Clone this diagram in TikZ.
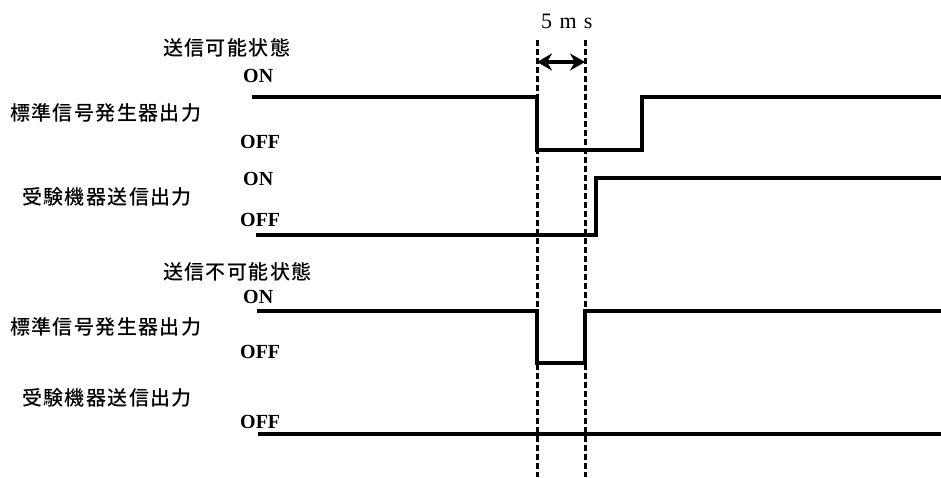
\documentclass[tikz,border=0pt]{standalone}
\usepackage{fontspec}
\setmainfont{Liberation Serif}
\newfontfamily\jp[LetterSpace=7]{Noto Sans CJK JP Medium}
\usetikzlibrary{arrows.meta}
\begin{document}
\begin{tikzpicture}[x=1pt,y=-1pt,
  jlabel/.style={font=\jp\fontsize{20}{20}\selectfont, inner sep=0pt, anchor=west},
  lvl/.style={font=\bfseries\fontsize{20}{20}\selectfont, inner sep=0pt, anchor=west},
  sig/.style={line width=4pt, line join=miter},
  guide/.style={line width=3pt, dash pattern=on 6pt off 3pt},
  span/.style={line width=3.2pt, {Stealth[length=15pt,width=17pt]}-{Stealth[length=15pt,width=17pt]}},
]
\useasboundingbox (0,0) rectangle (941,477);

% labels
\node[jlabel] (st1) at (163,48) {送信可能状態};
\node[jlabel] (sg1) at (10,113) {標準信号発生器出力};
\node[jlabel] (eq1) at (22,197) {受験機器送信出力};
\node[jlabel] (st2) at (163,272) {送信不可能状態};
\node[jlabel] (sg2) at (10,327) {標準信号発生器出力};
\node[jlabel] (eq2) at (22,398) {受験機器送信出力};

\node[lvl] (on1) at (243,76) {ON};
\node[lvl] (off1) at (240,142) {OFF};
\node[lvl] (on2) at (243,179) {ON};
\node[lvl] (off2) at (240,220) {OFF};
\node[lvl] (on3) at (243,297) {ON};
\node[lvl] (off3) at (240,352) {OFF};
\node[lvl] (off4) at (240,422) {OFF};

\node[font=\fontsize{22}{22}\selectfont, inner sep=0pt, anchor=west] (ms) at (541,21) {5\,\,m\,\,s};

% guide lines
\coordinate (gAt) at (537,40);
\coordinate (gAb) at (537,477);
\coordinate (gBt) at (585,40);
\coordinate (gBb) at (585,477);
\draw[guide] (gAt) -- (gAb);
\draw[guide] (gBt) -- (gBb);
\coordinate (aL) at (537,62);
\coordinate (aR) at (585,62);
\draw[span] (aL) -- (aR);

% waveforms
\draw[sig] (252,97) -- (537,97) -- (537,150) -- (642,150) -- (642,97) -- (941,97);
\draw[sig] (256,235) -- (596,235) -- (596,178) -- (941,178);
\draw[sig] (257,311) -- (537,311) -- (537,363) -- (585,363) -- (585,311) -- (941,311);
\draw[sig] (258,434) -- (941,434);
\end{tikzpicture}
\end{document}
